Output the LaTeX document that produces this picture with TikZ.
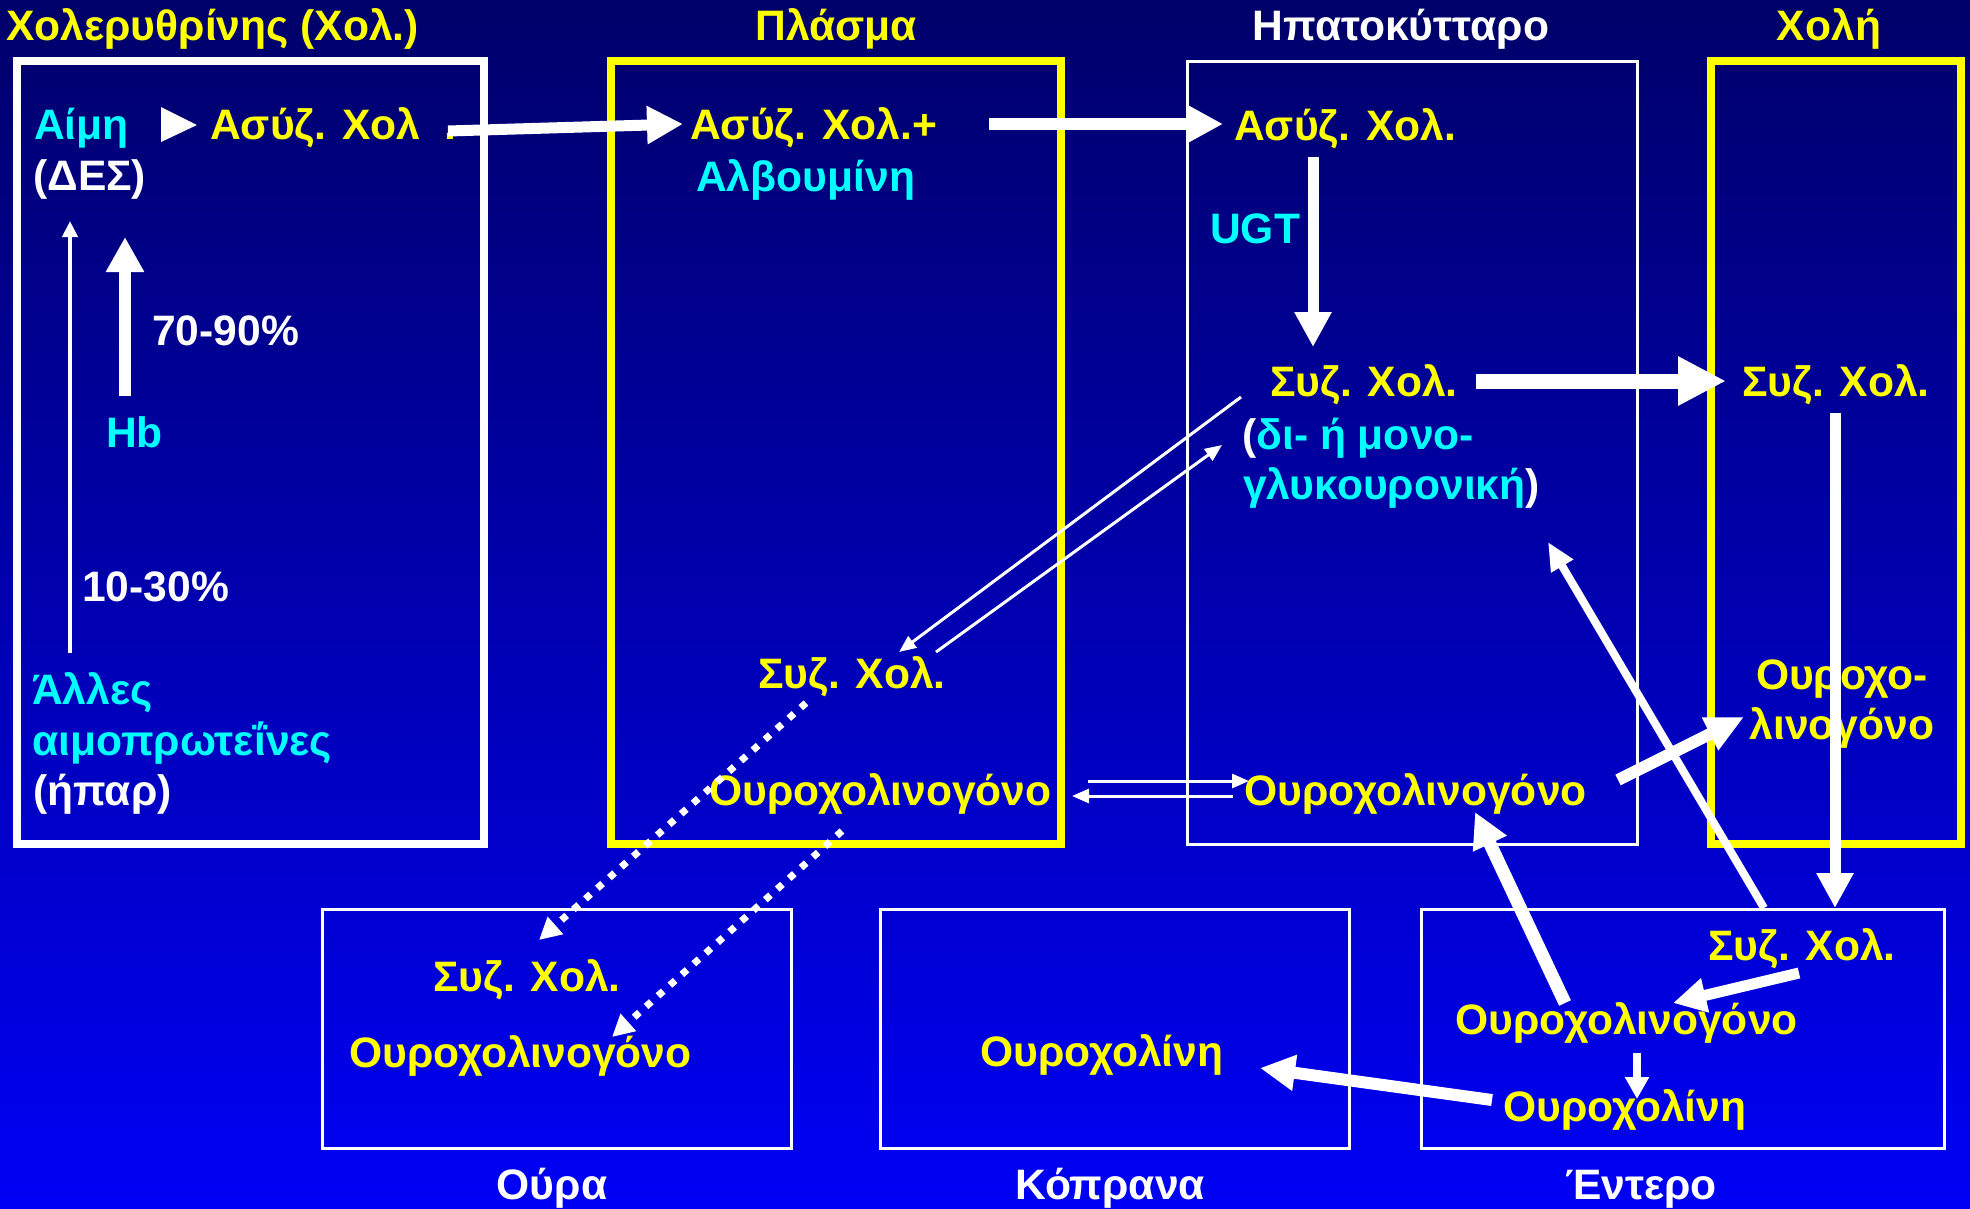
\documentclass[tikz,border=0pt]{standalone}
\usepackage{fontspec}
\setmainfont{Liberation Sans}
\usepackage{tikz}
\usetikzlibrary{arrows.meta,calc,positioning}

\definecolor{bgtop}{RGB}{0,0,105}
\definecolor{bgbot}{RGB}{0,0,245}
\definecolor{hlyel}{RGB}{255,255,0}
\definecolor{hlcyan}{RGB}{0,255,255}

\tikzset{
	>={Triangle[length=36pt,width=36pt]},
	txt/.style={inner sep=0pt, anchor=base west, font=\fontsize{42.6}{50}\selectfont\bfseries},
	ytxt/.style={txt, text=hlyel},
	ctxt/.style={txt, text=hlcyan},
	wtxt/.style={txt, text=white},
	ttl/.style={txt, anchor=base},
	fatbox/.style={draw=#1, line width=8pt},
	thinbox/.style={draw=white, line width=3pt},
	fedge/.style={draw=white, line width=12pt, ->},
	hedge/.style={draw=white, line width=15pt, -{Triangle[length=48pt,width=46pt]}},
	medge/.style={draw=white, line width=8pt, -{Triangle[length=28pt,width=24pt]}},
	sedge/.style={draw=white, line width=8pt, -{Triangle[length=22pt,width=23pt]}},
	tedge/.style={draw=white, line width=3pt, -{Triangle[length=17pt,width=14pt]}},
	dotedge/.style={draw=white, line width=7pt, dash pattern=on 7pt off 9pt, -{Triangle[length=22pt,width=22pt]}},
}

\begin{document}
\begin{tikzpicture}[x=1pt,y=-1pt]
	\useasboundingbox (0,0) rectangle (1970,1208);
	\shade[top color=bgtop, bottom color=bgbot] (0,0) rectangle (1970,1208);

	% compartments
	\draw[fatbox=white] (17,61) rectangle (484,844);
	\draw[fatbox=hlyel] (611,61) rectangle (1061,844);
	\draw[thinbox] (1187,61) rectangle (1637,844);
	\draw[fatbox=hlyel] (1711,61) rectangle (1961,844);
	\draw[thinbox] (322,909) rectangle (791,1148);
	\draw[thinbox] (880,909) rectangle (1349,1148);
	\draw[thinbox] (1421,909) rectangle (1944,1148);

	\node[ytxt] (tBil) at (6,40) {Χολερυθρίνης (Χολ.)};
	\node[ttl, text=hlyel] (tPla) at (836,40) {Πλάσμα};
	\node[ttl, text=white] (tHep) at (1401,40) {Ηπατοκύτταρο};
	\node[ttl, text=hlyel] (tBile) at (1829,40) {Χολή};
	\foreach \x/\lbl/\nm in {552/Ούρα/tUri, 1110/Κόπρανα/tFec, 1641/Έντερο/tInt}
		\node[ttl, text=white] (\nm) at (\x,1199) {\lbl};

	% production
	\node[ctxt] (aimi) at (34,139) {Αίμη};
	\node[wtxt] (des) at (33,190) {(ΔΕΣ)};
	\node[ytxt] (asyzL) at (210,139) {Ασύζ. Χολ\hspace{24pt}.};
	\fill[white] (161,107) -- (197,125) -- (161,142) -- cycle;
	\node[wtxt] (p7090) at (152,345) {70-90\%};
	\node[ctxt] (hb) at (106,447) {Hb};
	\node[wtxt] (p1030) at (82,601) {10-30\%};
	\node[ctxt] (alles) at (32,704) {Άλλες};
	\node[ctxt] (aimopr) at (32,755) {αιμοπρωτεΐνες};
	\node[wtxt] (hpar) at (33,805) {(ήπαρ)};

	% plasma
	\node[ytxt] (asyzP) at (690,139) {Ασύζ. Χολ.+};
	\node[ctxt] (albP) at (696,191) {Αλβουμίνη};
	\node[ytxt] (syzP) at (758,688) {Συζ. Χολ.};
	\node[ytxt] (ourP) at (709,805) {Ουροχολινογόνο};

	% hepatocyte
	\node[ytxt] (asyzH) at (1234,140) {Ασύζ. Χολ.};
	\node[ctxt] (ugt) at (1210,243) {UGT};
	\node[ytxt] (syzH) at (1270,396) {Συζ. Χολ.};
	\node[ctxt] (diH) at (1242,449) {\textcolor{white}{(}δι- ή μονο-};
	\node[ctxt] (glyH) at (1243,499) {γλυκουρονική\textcolor{white}{)}};
	\node[ytxt] (ourH) at (1244,805) {Ουροχολινογόνο};

	% bile
	\node[ytxt] (syzB) at (1742,396) {Συζ. Χολ.};
	\node[ttl, text=hlyel] (ourB1) at (1842,689) {Ουροχο-};
	\node[ttl, text=hlyel] (ourB2) at (1842,739) {λινογόνο};

	% urine, faeces, intestine
	\node[ytxt] (syzU) at (433,991) {Συζ. Χολ.};
	\node[ytxt] (ourU) at (349,1067) {Ουροχολινογόνο};
	\node[ytxt] (urobF) at (980,1066) {Ουροχολίνη};
	\node[ytxt] (syzI) at (1708,960) {Συζ. Χολ.};
	\node[ytxt] (ourI) at (1455,1034) {Ουροχολινογόνο};
	\node[ytxt] (urobI) at (1503,1121) {Ουροχολίνη};

	% arrow ends
	\coordinate (c1030) at (70,653);
	\coordinate (cdes) at (70,221);
	\coordinate (chb) at (125,396);
	\coordinate (cdes2) at (125,237);
	\coordinate (cLout) at (448,131);
	\coordinate (cPin) at (683,124);
	\coordinate (cPout) at (989,124);
	\coordinate (cHin) at (1223,124);
	\coordinate (cugt1) at (1313,157);
	\coordinate (cugt2) at (1313,347);
	\coordinate (cHout) at (1476,381);
	\coordinate (cBin) at (1726,381);
	\coordinate (cBtop) at (1835,413);
	\coordinate (cIin) at (1835,908);
	\coordinate (cH1) at (1241,397);
	\coordinate (cP1) at (899,652);
	\coordinate (cP2) at (936,652);
	\coordinate (cH2) at (1222,445);
	\coordinate (cPo1) at (1088,781);
	\coordinate (cHo1) at (1249,781);
	\coordinate (cHo2) at (1233,796);
	\coordinate (cPo2) at (1072,796);
	\coordinate (cPs) at (806,703);
	\coordinate (cUs) at (539,940);
	\coordinate (cPu) at (842,831);
	\coordinate (cUu) at (612,1037);
	\coordinate (cHu) at (1618,780);
	\coordinate (cBu) at (1744,717);
	\coordinate (cIs) at (1764,908);
	\coordinate (cHg) at (1548,542);
	\coordinate (cIs2) at (1799,973);
	\coordinate (cIo) at (1673,1003);
	\coordinate (cIo2) at (1565,1003);
	\coordinate (cHo3) at (1475,812);
	\coordinate (cIo3) at (1637,1053);
	\coordinate (cIr) at (1637,1099);
	\coordinate (cIr2) at (1492,1100);
	\coordinate (cFr) at (1260,1068);

	\path (c1030) edge[draw=white, line width=4pt, -{Triangle[length=16pt,width=15pt]}] (cdes);
	\path (chb) edge[fedge, -{Triangle[length=35pt,width=36pt]}] (cdes2);
	\path (cLout) edge[fedge, line width=11pt] (cPin);
	\path (cPout) edge[fedge] (cHin);
	\path (cugt1) edge[fedge, line width=11pt, -{Triangle[length=35pt,width=35pt]}] (cugt2);
	\path (cHout) edge[hedge] (cBin);
	\path (cBtop) edge[fedge, line width=11pt, -{Triangle[length=35pt,width=35pt]}] (cIin);
	\path (cH1) edge[tedge] (cP1);
	\path (cP2) edge[tedge] (cH2);
	\path (cPo1) edge[tedge] (cHo1);
	\path (cHo2) edge[tedge] (cPo2);
	\path (cPs) edge[dotedge] (cUs);
	\path (cPu) edge[dotedge] (cUu);
	\path (cHu) edge[fedge, -{Triangle[length=38pt,width=34pt]}] (cBu);
	\path (cIs) edge[medge] (cHg);
	\path (cIs2) edge[fedge, line width=11pt, -{Triangle[length=33pt,width=33pt]}] (cIo);
	\path (cIo2) edge[fedge, line width=13pt, -{Triangle[length=35pt,width=35pt]}] (cHo3);
	\path (cIo3) edge[sedge] (cIr);
	\path (cIr2) edge[fedge, -{Triangle[length=35pt,width=34pt]}] (cFr);
\end{tikzpicture}
\end{document}
